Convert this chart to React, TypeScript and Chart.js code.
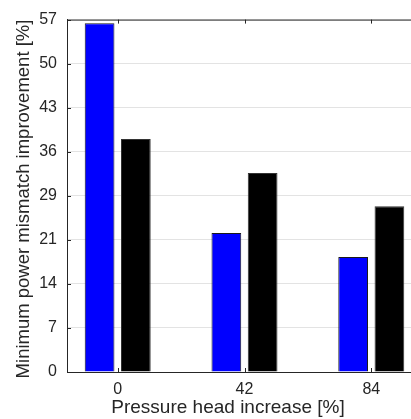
import React, { useEffect, useRef } from "react";
import { Chart, registerables } from "chart.js";

Chart.register(...registerables);

const categories = [0, 42, 84];
const seriesBlue = [56.4, 22.5, 18.6];
const seriesBlack = [37.7, 32.2, 26.8];
const yTickLabels = [0, 7, 14, 21, 29, 36, 43, 50, 57];
const xTitle = "Pressure head increase [%]";
const yTitle = "Minimum power mismatch improvement [%]";

const FONT = "'Liberation Sans', Arial, Helvetica, sans-serif";
const TEXT = "#262626";

const innerTicks = {
  id: "innerTicks",
  afterDatasetsDraw(chart: any) {
    const { ctx, chartArea, scales } = chart;
    const { left, right, top, bottom } = chartArea;
    ctx.save();
    ctx.strokeStyle = TEXT;
    ctx.lineWidth = 1;
    ctx.beginPath();
    ctx.moveTo(left, top + 0.5);
    ctx.lineTo(right + 20, top + 0.5);
    scales.y.ticks.forEach((t: any) => {
      const y = Math.round(scales.y.getPixelForValue(t.value)) + 0.5;
      ctx.moveTo(left, y);
      ctx.lineTo(left + 4, y);
    });
    scales.x.ticks.forEach((t: any) => {
      const x = Math.round(scales.x.getPixelForValue(t.value)) + 0.5;
      ctx.moveTo(x, top);
      ctx.lineTo(x, top + 4);
      ctx.moveTo(x, bottom);
      ctx.lineTo(x, bottom - 4);
    });
    ctx.stroke();
    ctx.restore();
  },
};

const axisTitles = {
  id: "axisTitles",
  afterDraw(chart: any) {
    const { ctx } = chart;
    ctx.save();
    ctx.fillStyle = TEXT;
    ctx.textAlign = "center";
    ctx.textBaseline = "alphabetic";
    ctx.font = `19px ${FONT}`;
    ctx.fillText(xTitle, 228, 413);
    ctx.translate(28.5, 199);
    ctx.rotate(-Math.PI / 2);
    ctx.font = `18.5px ${FONT}`;
    ctx.fillText(yTitle, 0, 0);
    ctx.restore();
  },
};

export default function App() {
  const ref = useRef<HTMLCanvasElement>(null);
  useEffect(() => {
    const chart = new Chart(ref.current as HTMLCanvasElement, {
      type: "bar",
      data: {
        datasets: [
          {
            label: "A",
            data: categories.map((c, i) => ({ x: c, y: seriesBlue[i] })),
            backgroundColor: "#0000ff",
            borderColor: "#1a1a1a",
            borderWidth: 1,
            categoryPercentage: 0.572,
            barPercentage: 0.82,
          },
          {
            label: "B",
            data: categories.map((c, i) => ({ x: c, y: seriesBlack[i] })),
            backgroundColor: "#000000",
            borderColor: "#333333",
            borderWidth: 1,
            categoryPercentage: 0.572,
            barPercentage: 0.82,
          },
        ],
      },
      options: {
        responsive: false,
        animation: false,
        devicePixelRatio: 1,
        layout: { padding: { top: 17, left: 0, right: 8, bottom: 0 } },
        plugins: { legend: { display: false }, tooltip: { enabled: false } },
        scales: {
          x: {
            type: "linear",
            offset: false,
            min: -16.8,
            max: 100.8,
            afterBuildTicks: (s: any) => {
              s.ticks = categories.map((v) => ({ value: v }));
            },
            afterFit: (s: any) => {
              s.height = 47;
            },
            grid: { display: false, drawTicks: false, offset: false },
            border: { display: true, color: TEXT, width: 1 },
            ticks: {
              color: TEXT,
              font: { family: FONT, size: 16 },
              padding: 8,
              maxRotation: 0,
              callback: (v: any) => String(v),
            },
          },
          y: {
            min: 0,
            max: 57,
            afterBuildTicks: (s: any) => {
              s.ticks = yTickLabels.map((_, i) => ({ value: (i * 57) / 8 }));
            },
            afterFit: (s: any) => {
              s.width = 67;
            },
            grid: { color: "#e3e3e3", drawTicks: false },
            border: { display: true, color: TEXT, width: 1 },
            ticks: {
              color: TEXT,
              font: { family: FONT, size: 16 },
              padding: 10,
              callback: (_v: any, i: number) => String(yTickLabels[i]),
            },
          },
        },
      },
      plugins: [innerTicks, axisTitles],
    });
    return () => chart.destroy();
  }, []);
  return (
    <div
      style={{
        position: "fixed",
        left: 0,
        top: 0,
        width: 411,
        height: 419,
        overflow: "hidden",
        background: "#fff",
      }}
    >
      <canvas ref={ref} width={430} height={419} />
    </div>
  );
}
